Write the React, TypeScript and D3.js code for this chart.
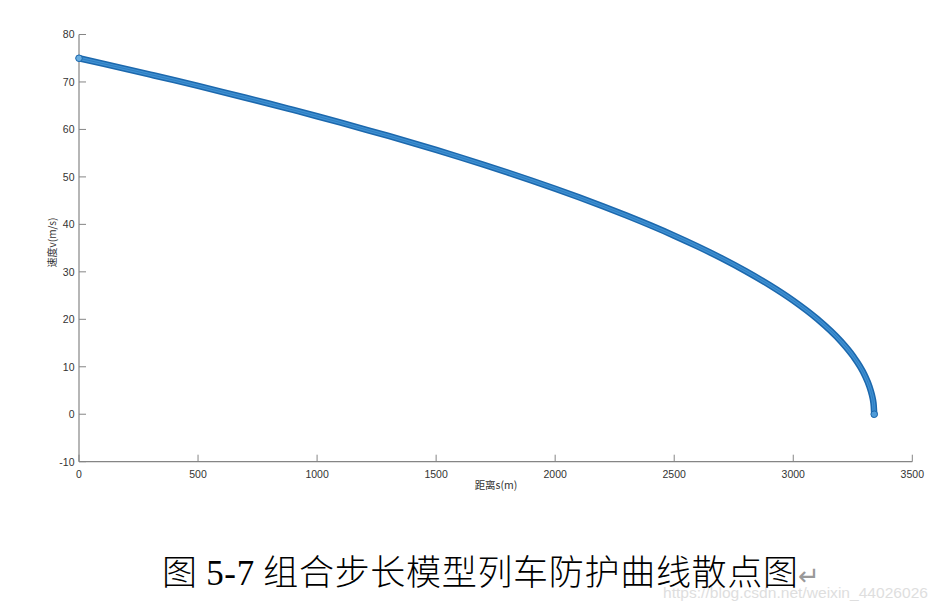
import React from "react";
import * as d3 from "d3";

const distance = [0, 100, 200, 300, 400, 500, 600, 700, 800, 900, 1000, 1100, 1200, 1300, 1400, 1500, 1600, 1700, 1800, 1900, 2000, 2100, 2200, 2300, 2400, 2500, 2600, 2700, 2800, 2900, 3000, 3100, 3200, 3250, 3300, 3320, 3330, 3335, 3338, 3340];
const speed = [75.0, 73.87, 72.72, 71.55, 70.37, 69.16, 67.93, 66.68, 65.41, 64.1, 62.78, 61.42, 60.03, 58.62, 57.16, 55.67, 54.14, 52.56, 50.93, 49.25, 47.51, 45.7, 43.82, 41.85, 39.79, 37.62, 35.31, 32.84, 30.16, 27.23, 23.94, 20.11, 15.37, 12.33, 8.23, 5.84, 4.15, 2.98, 1.8, 0.0];
const xTicks = [0, 500, 1000, 1500, 2000, 2500, 3000, 3500];
const yTicks = [-10, 0, 10, 20, 30, 40, 50, 60, 70, 80];
const xLabel = "距离s(m)";
const yLabel = "速度v(m/s)";
const captionHead = "图 ";
const captionNum = "5-7";
const captionTail = " 组合步长模型列车防护曲线散点图";
const watermark = "https://blog.csdn.net/weixin_44026026";

export default function App() {
  const left = 79, right = 912.3, top = 34.5, bottom = 461.7;
  const x = d3.scaleLinear().domain([0, 3500]).range([left, right]);
  const y = d3.scaleLinear().domain([-10, 80]).range([bottom, top]);
  const pts = distance.map((d, i) => [d, speed[i]] as [number, number]);
  const line = d3
    .line<[number, number]>()
    .x((d) => x(d[0]))
    .y((d) => y(d[1]))
    .curve(d3.curveMonotoneX);
  const path = line(pts) || "";
  const axisColor = "#858585";
  const tickFont = "Arial, 'Liberation Sans', sans-serif";
  const tickLen = 7;
  const cjk = "'Noto Sans CJK SC', 'Liberation Serif', serif";
  return (
    <svg
      width={940}
      height={610}
      style={{ position: "absolute", left: 0, top: 0, background: "#fff" }}
    >
      <rect x={0} y={0} width={940} height={610} fill="#fff" />
      <line x1={left} x2={left} y1={top} y2={bottom} stroke={axisColor} strokeWidth={1.2} />
      <line x1={left} x2={right} y1={bottom} y2={bottom} stroke={axisColor} strokeWidth={1.2} />
      {xTicks.map((t) => (
        <g key={"x" + t}>
          <line x1={x(t)} x2={x(t)} y1={bottom} y2={bottom - tickLen} stroke={axisColor} strokeWidth={1} />
          <text x={x(t)} y={bottom + 16} textAnchor="middle" fontFamily={tickFont} fontSize={10.5} fill="#333">
            {t}
          </text>
        </g>
      ))}
      {yTicks.map((t) => (
        <g key={"y" + t}>
          <line x1={left} x2={left + tickLen} y1={y(t)} y2={y(t)} stroke={axisColor} strokeWidth={1} />
          <text x={left - 4.5} y={y(t) + 3.8} textAnchor="end" fontFamily={tickFont} fontSize={10.5} fill="#333">
            {t}
          </text>
        </g>
      ))}
      <text x={496} y={489} textAnchor="middle" fontFamily="'Noto Sans CJK SC', Arial, sans-serif" fontSize={10.5} fill="#333">
        {xLabel}
      </text>
      <text
        transform={`translate(55.5, 242.5) rotate(-90)`}
        textAnchor="middle"
        fontFamily="'Noto Sans CJK SC', Arial, sans-serif"
        fontSize={10}
        fill="#333"
      >
        {yLabel}
      </text>
      <path d={path} fill="none" stroke="#1c68ad" strokeWidth={6.5} strokeLinecap="round" strokeLinejoin="round" />
      <path d={path} fill="none" stroke="#3f90d2" strokeWidth={3.4} strokeLinecap="round" strokeLinejoin="round" />
      <path d={path} fill="none" stroke="#2a78bd" strokeWidth={0.8} strokeLinecap="round" />
      <circle cx={x(distance[0])} cy={y(speed[0])} r={3.3} fill="#6aaee0" stroke="#1c68ad" strokeWidth={1} />
      <circle
        cx={x(distance[distance.length - 1])}
        cy={y(speed[speed.length - 1])}
        r={3.3}
        fill="#4f9bd8"
        stroke="#1c68ad"
        strokeWidth={1}
      />
      <text
        x={928}
        y={598}
        textAnchor="end"
        fontFamily="Arial, 'Liberation Sans', sans-serif"
        fontSize={14.5}
        fill="#dedede"
        textLength={265}
        lengthAdjust="spacingAndGlyphs"
      >
        {watermark}
      </text>
      <text x={162} y={585} fontSize={35} fill="#000" textLength={636} lengthAdjust="spacing">
        <tspan fontFamily={cjk} fontWeight={300}>{captionHead}</tspan>
        <tspan fontFamily="'Liberation Serif', serif">{captionNum}</tspan>
        <tspan fontFamily={cjk} fontWeight={300}>{captionTail}</tspan>
      </text>
      <text x={798} y={585} fontFamily="'DejaVu Sans', sans-serif" fontSize={26} fill="#999">
        ↵
      </text>
    </svg>
  );
}
